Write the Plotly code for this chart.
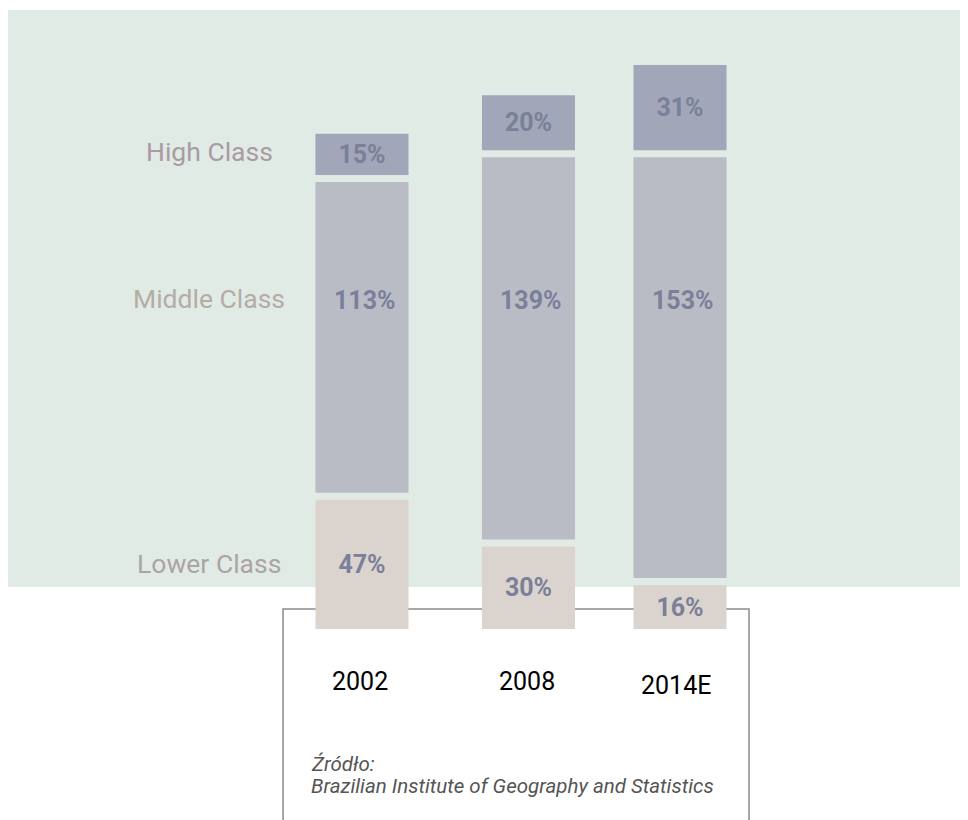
import plotly.graph_objects as go

# ---- data ----
categories = ["2002", "2008", "2014E"]
lower = [47, 30, 16]
middle = [113, 139, 153]
high = [15, 20, 31]
class_names = ["Lower Class", "Middle Class", "High Class"]
source_title = "Źródło:"
source_text = "Brazilian Institute of Geography and Statistics"

# ---- style ----
GAP = 2.55                 # visual gap between stacked segments (data units)
BAR_W = 0.585
SHIFT = [0.0, 0.047, 0.0]  # small horizontal nudge per column (category units)
C_LOW, C_MID, C_HIGH = "#dbd3cd", "#b9bcc5", "#a1a6b8"
C_BG = "#e1ebe5"
C_NUM = "#7a8099"
FONT = "Roboto"
NUM_SIZE = 25

offsets = [-BAR_W / 2 + s for s in SHIFT]
base_low = [0] * len(lower)
base_mid = [l + GAP for l in lower]
base_high = [l + m + 2 * GAP for l, m in zip(lower, middle)]
idx = list(range(len(categories)))

fig = go.Figure()

def add_seg(vals, base, color, show_text):
    fig.add_trace(go.Bar(
        x=categories, y=vals, base=base,
        width=[BAR_W] * len(vals), offset=offsets,
        marker=dict(color=color, line=dict(width=0)),
        text=[f"{v}%" for v in vals] if show_text else None,
        textposition="inside" if show_text else "none",
        insidetextanchor="middle", textangle=0, constraintext="none",
        insidetextfont=dict(family=FONT, size=NUM_SIZE, color=C_NUM, weight="bold"),
        hoverinfo="skip", showlegend=False,
    ))

add_seg(lower, base_low, C_LOW, True)
add_seg(middle, base_mid, C_MID, False)
add_seg(high, base_high, C_HIGH, True)

annotations = []
# middle-class labels sit at a fixed height
MID_LABEL_Y = 119.6
for i, v in zip(idx, middle):
    annotations.append(dict(
        x=i, y=MID_LABEL_Y, xref="x", yref="y", text=f"{v}%", showarrow=False,
        xshift=SHIFT[i] * 159 + 3,
        font=dict(family=FONT, size=NUM_SIZE, color=C_NUM, weight="bold")))

# year labels
YEAR_SHIFT = [-2, -1, -4]
YEAR_Y = [-0.0856, -0.0856, -0.0905]
for i, c in zip(idx, categories):
    annotations.append(dict(
        x=i, y=YEAR_Y[i], xref="x", yref="paper", text=c, showarrow=False,
        xshift=YEAR_SHIFT[i] + SHIFT[i] * 159, yanchor="middle",
        font=dict(family=FONT, size=25, color="#000000")))

# class labels
class_colors = ["#aca4a4", "#b5aca6", "#a99aa4"]
class_y = [0.1066, 0.5347, 0.7706]
for name, col, yy in zip(class_names, class_colors, class_y):
    annotations.append(dict(
        x=0.2094, y=yy, xref="paper", yref="paper", text=name, showarrow=False,
        xanchor="center", yanchor="middle",
        font=dict(family=FONT, size=26.5, color=col)))

# source
annotations.append(dict(x=0.3135, y=-0.2181, xref="paper", yref="paper",
                        text=source_title, showarrow=False, xanchor="left", yanchor="middle",
                        font=dict(family=FONT, size=20.5, color="#555555", style="italic")))
annotations.append(dict(x=0.3135, y=-0.2536, xref="paper", yref="paper",
                        text=source_text, showarrow=False, xanchor="left", yanchor="middle",
                        font=dict(family=FONT, size=20.5, color="#555555", style="italic")))

shapes = [
    dict(type="rect", xref="paper", yref="paper", x0=0.0, x1=1.0, y0=0.0679, y1=1.0,
         fillcolor=C_BG, line=dict(width=0), layer="below"),
    dict(type="rect", xref="paper", yref="paper", x0=0.2865, x1=0.7719, y0=0.0323, y1=-0.35,
         fillcolor="rgba(0,0,0,0)", line=dict(width=1.5, color="#8c8a8a"), layer="below"),
]

fig.update_layout(
    width=960, height=812,
    margin=dict(l=0, r=0, t=2, b=191),
    barmode="overlay",
    paper_bgcolor="#ffffff", plot_bgcolor="rgba(0,0,0,0)",
    xaxis=dict(type="category", range=[-2.226, 3.811], visible=False, fixedrange=True),
    yaxis=dict(range=[0, 225.1], visible=False, fixedrange=True),
    annotations=annotations, shapes=shapes,
    font=dict(family=FONT),
)

fig.write_html("out.html")
